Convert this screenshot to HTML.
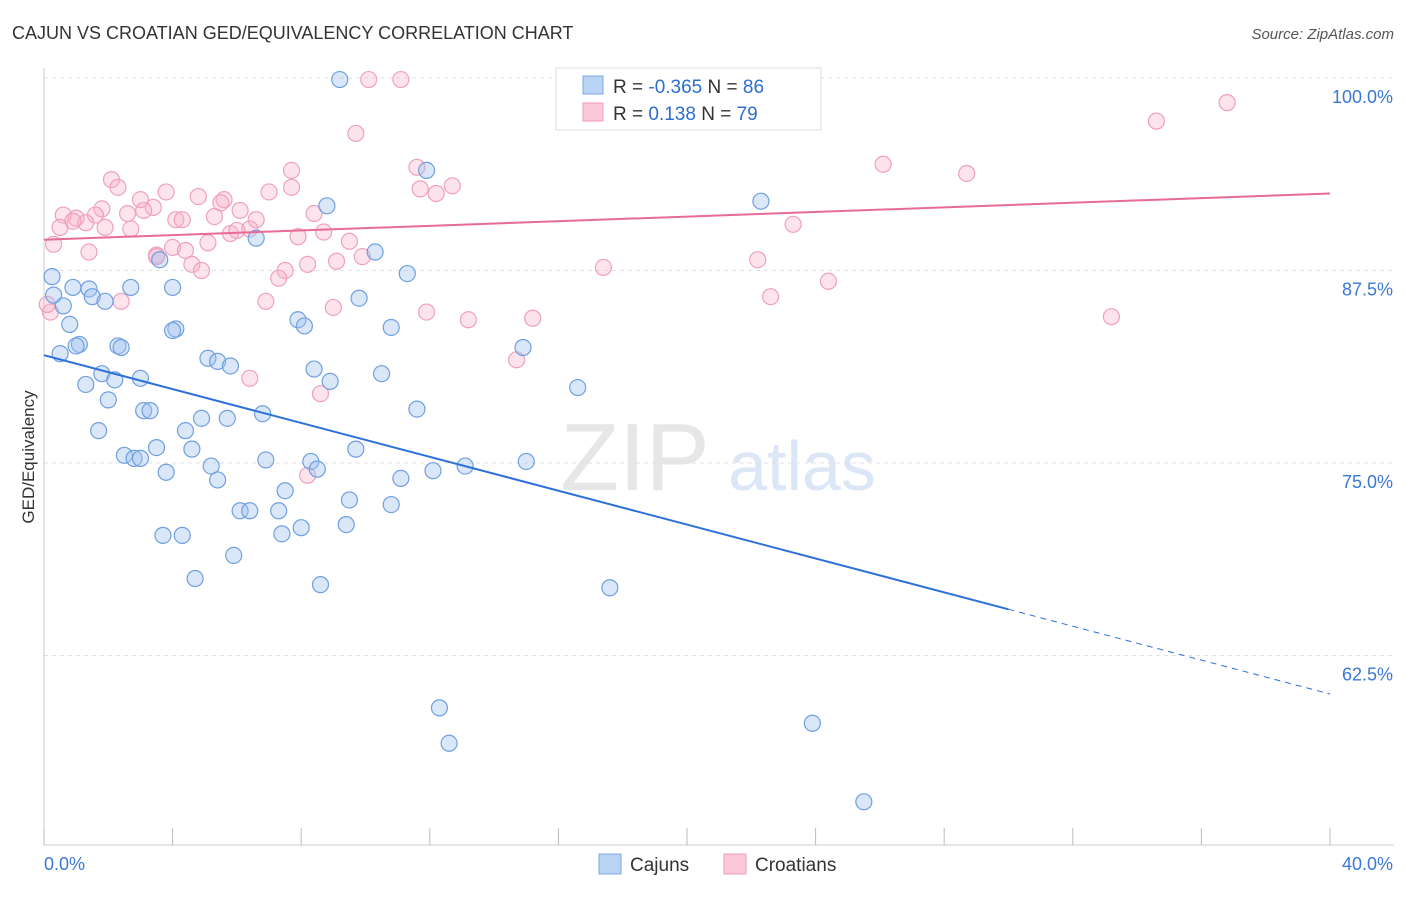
<!DOCTYPE html>
<html><head><meta charset="utf-8"><style>
body{margin:0;background:#fff;font-family:"Liberation Sans",sans-serif}
svg text{font-family:"Liberation Sans",sans-serif}
</style></head><body>
<svg id="chart" width="1406" height="892" viewBox="0 0 1406 892" xmlns="http://www.w3.org/2000/svg">
<text x="12" y="39" font-size="18" fill="#333">CAJUN VS CROATIAN GED/EQUIVALENCY CORRELATION CHART</text>
<text x="1394" y="39" font-size="15" fill="#555" text-anchor="end" font-style="italic">Source: ZipAtlas.com</text>
<g>
<text x="635" y="490" font-size="96" font-family="Liberation Serif" fill="#e6e6e6" text-anchor="middle">ZIP</text>
<text x="802" y="490" font-size="70" fill="#dbe6f6" text-anchor="middle">atlas</text>
</g>
<g id="grid"></g>
<g id="axes"></g>
<g id="pts"></g>
<g id="trend"></g>
<text transform="translate(34,457) rotate(-90)" font-size="17" fill="#333" text-anchor="middle">GED/Equivalency</text>
<g>
<rect x="556" y="68" width="265" height="62" fill="#fff" stroke="#ddd"/>
<rect x="583" y="76" width="20" height="18" fill="#b9d3f5" stroke="#7ea9e4"/>
<rect x="583" y="103" width="20" height="18" fill="#fbc9d8" stroke="#f19ab7"/>
<text x="613" y="93" font-size="19" fill="#333">R = <tspan fill="#2b6fd1">-0.365</tspan>   N = <tspan fill="#2b6fd1">86</tspan></text>
<text x="613" y="120" font-size="19" fill="#333">R =   <tspan fill="#2b6fd1">0.138</tspan>   N = <tspan fill="#2b6fd1">79</tspan></text>
</g>
<g>
<rect x="599" y="854" width="22" height="20" fill="#b9d3f5" stroke="#7ea9e4"/>
<text x="630" y="871" font-size="19" fill="#333">Cajuns</text>
<rect x="724" y="854" width="22" height="20" fill="#fbc9d8" stroke="#f19ab7"/>
<text x="755" y="871" font-size="19" fill="#333">Croatians</text>
</g>
</svg>
<script>
const yTicks=[100,87.5,75,62.5];
const yTickLabels=["100.0%","87.5%","75.0%","62.5%"];
const xTickLabels=["0.0%","40.0%"];
const cajunX=[9.2,11.9,22.3,8.8,6.6,10.3,3.6,0.25,11.3,4.0,2.7,0.9,1.4,0.3,1.5,1.9,0.6,9.8,7.9,8.1,0.8,4.1,4.0,10.8,1.1,1.0,2.3,2.4,0.5,14.9,5.1,5.4,5.8,8.4,10.5,1.8,1.3,2.2,3.0,8.9,16.6,2.0,3.1,3.3,11.6,6.8,4.9,5.7,4.4,1.7,3.5,4.6,9.7,2.5,2.8,3.0,6.9,8.3,15.0,8.5,13.1,5.2,12.1,3.8,11.1,5.4,7.5,9.5,6.1,6.4,7.3,10.8,8.0,9.4,7.4,3.7,4.3,5.9,4.7,8.6,17.6,12.3,23.9,12.6,25.5];
const cajunY=[99.9,94.0,92.0,91.7,89.6,88.7,88.2,87.1,87.3,86.4,86.4,86.4,86.3,85.9,85.8,85.5,85.2,85.7,84.3,83.9,84.0,83.7,83.6,83.8,82.7,82.6,82.6,82.5,82.1,82.5,81.8,81.6,81.3,81.1,80.8,80.8,80.1,80.4,80.5,80.3,79.9,79.1,78.4,78.4,78.5,78.2,77.9,77.9,77.1,77.1,76.0,75.9,75.9,75.5,75.3,75.3,75.2,75.1,75.1,74.6,74.8,74.8,74.5,74.4,74.0,73.9,73.2,72.6,71.9,71.9,71.9,72.3,70.8,71.0,70.4,70.3,70.3,69.0,67.5,67.1,66.9,59.1,58.1,56.8,53.0];
const croX=[10.1,11.1,18.0,36.8,34.6,9.7,26.1,28.7,11.6,7.7,2.1,2.3,7.7,3.8,4.8,11.7,12.7,12.2,7.0,3.0,5.6,5.5,3.4,1.8,3.1,0.6,1.0,1.6,6.1,2.6,8.4,5.3,4.1,4.3,6.6,1.3,0.5,1.9,2.7,0.9,6.4,5.8,6.0,8.7,23.3,7.9,5.1,9.5,0.3,1.4,4.0,4.4,3.5,3.5,4.6,4.9,9.9,9.1,8.2,7.5,17.4,22.2,7.3,24.4,22.6,2.4,6.9,9.0,11.9,13.2,15.2,33.2,0.2,0.1,14.7,6.4,8.6,8.2];
const croY=[99.9,99.9,99.9,98.4,97.2,96.4,94.4,93.8,94.2,94.0,93.4,92.9,92.9,92.6,92.3,92.8,93.0,92.5,92.6,92.1,92.1,91.9,91.6,91.5,91.4,91.1,90.9,91.1,91.4,91.2,91.2,91.0,90.8,90.8,90.8,90.6,90.3,90.3,90.2,90.7,90.2,89.9,90.1,90.0,90.5,89.7,89.3,89.4,89.2,88.7,89.0,88.8,88.5,88.4,87.9,87.5,88.4,88.1,87.9,87.5,87.7,88.2,87.0,86.8,85.8,85.5,85.5,85.1,84.8,84.3,84.4,84.5,84.8,85.3,81.7,80.5,79.5,74.2];
const cajunTrend=[82.0,-0.55]; // intercept, slope per % x
const croTrend=[89.5,0.075];
const X0=44,X1=1330,Y100=78,PX=15.4;
const sx=v=>X0+(v/40)*(X1-X0);
const sy=v=>Y100+(100-v)*PX;
const NS="http://www.w3.org/2000/svg";
function mk(p,tag,attrs){const e=document.createElementNS(NS,tag);for(const k in attrs)e.setAttribute(k,attrs[k]);p.appendChild(e);return e;}
const grid=document.getElementById('grid'),axes=document.getElementById('axes');
yTicks.forEach((t,i)=>{
 const l=mk(grid,'line',{x1:X0,x2:1394,y1:sy(t),y2:sy(t),stroke:'#e2e2e2','stroke-dasharray':'4,4'});
 
 
 const tx=mk(axes,'text',{x:1393,y:sy(t)+25,'font-size':18,fill:'#3a78d6','text-anchor':'end'});
 tx.textContent=yTickLabels[i];
 
 
});
mk(axes,'line',{x1:X0,x2:1394,y1:845,y2:845,stroke:'#ccc'});
mk(axes,'line',{x1:X0,x2:X0,y1:68,y2:845,stroke:'#ccc'});
for(let i=0;i<=10;i++){const x=sx(i*4);const t=mk(axes,'line',{x1:x,x2:x,y1:828,y2:845,stroke:'#bbb'});
 
 }
const xl0=mk(axes,'text',{x:44,y:870,'font-size':18,fill:'#3a78d6'});xl0.textContent=xTickLabels[0];


const xl1=mk(axes,'text',{x:1393,y:870,'font-size':18,fill:'#3a78d6','text-anchor':'end'});xl1.textContent=xTickLabels[1];


const pts=document.getElementById('pts');
croX.forEach((x,i)=>{const c=mk(pts,'circle',{cx:sx(x),cy:sy(croY[i]),r:8,fill:'rgba(246,176,200,0.35)',stroke:'#f0a0bc','stroke-width':1.2});
 
 });
cajunX.forEach((x,i)=>{const c=mk(pts,'circle',{cx:sx(x),cy:sy(cajunY[i]),r:8,fill:'rgba(160,196,240,0.4)',stroke:'#6f9fe0','stroke-width':1.2});
 
 });
const tr=document.getElementById('trend');
const f=(t,x)=>t[0]+t[1]*x;
const b1=mk(tr,'line',{x1:sx(0),y1:sy(f(cajunTrend,0)),x2:sx(30),y2:sy(f(cajunTrend,30)),stroke:'#2c70d8','stroke-width':2});


const b2=mk(tr,'line',{x1:sx(30),y1:sy(f(cajunTrend,30)),x2:sx(40),y2:sy(f(cajunTrend,40)),stroke:'#2c70d8','stroke-width':1,'stroke-dasharray':'6,5'});


const p1=mk(tr,'line',{x1:sx(0),y1:sy(f(croTrend,0)),x2:sx(40),y2:sy(f(croTrend,40)),stroke:'#e86a98','stroke-width':2});


</script>
</body></html>
